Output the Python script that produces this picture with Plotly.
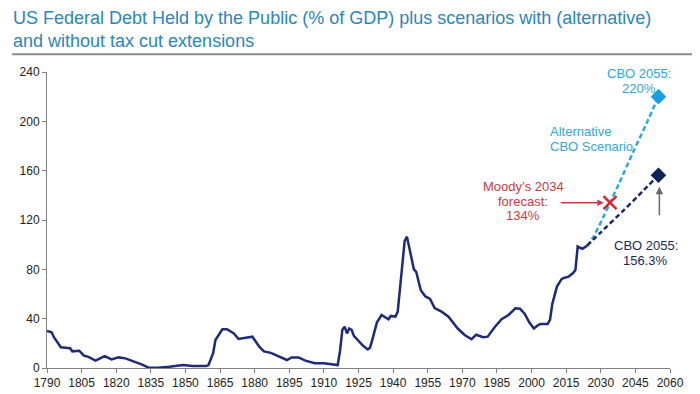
import plotly.graph_objects as go

# Historical debt held by the public, % of GDP
hist_years = [1790, 1791, 1792, 1793, 1795, 1796, 1800, 1801, 1804, 1806, 1808, 1811,
              1815, 1818, 1821, 1824, 1828, 1831, 1834, 1838, 1843, 1849, 1853, 1859,
              1860, 1862, 1863, 1864, 1866, 1868, 1871, 1873, 1878, 1879, 1882, 1884,
              1887, 1892, 1894, 1896, 1899, 1902, 1906, 1910, 1916, 1917, 1918, 1919,
              1920, 1921, 1922, 1923, 1925, 1927, 1929, 1930, 1931, 1933, 1935, 1937,
              1938, 1939, 1941, 1942, 1943, 1944, 1945, 1946, 1947, 1948, 1949, 1950,
              1952, 1954, 1956, 1958, 1961, 1964, 1968, 1971, 1974, 1976, 1979, 1981,
              1984, 1987, 1990, 1993, 1995, 1997, 1999, 2001, 2003, 2004, 2007, 2008,
              2009, 2011, 2013, 2014, 2016, 2018, 2019, 2020, 2022, 2024]
hist_vals = [30, 29.5, 29, 25, 19, 16.8, 16, 13.5, 14, 10, 9, 6,
             9.7, 7, 8.6, 7.8, 5, 3, 0.3, 0.3, 1, 2.4, 1.6, 1.6,
             2.4, 12, 22.7, 25.4, 31.4, 31.4, 28, 23.5, 24.9, 25.4, 17.3, 13.4,
             12.3, 7.8, 6.5, 8.6, 8.6, 6, 3.8, 3.8, 2.4, 14, 31, 33.5,
             28, 32, 31, 26, 22, 18, 15, 16.5, 23, 37, 43, 41,
             39.5, 42.2, 41.7, 45.7, 65, 82, 103, 106.5, 98, 90, 80, 78,
             63, 58, 56, 48.5, 45.7, 41.6, 32, 26.8, 23.3, 27, 25, 25.4,
             33, 39.5, 43, 48.4, 48, 44, 37, 32, 35, 35.7, 35.7, 39,
             52, 66, 72, 73, 74, 77, 79.5, 98.5, 96.6, 99]

# Alternative CBO scenario (with tax cut extensions)
alt_years = [2024, 2027, 2031, 2034, 2038, 2044, 2050, 2055]
alt_vals = [99, 107, 122, 134, 150, 175, 199, 220]

# CBO baseline (without extensions)
base_years = [2024, 2030, 2040, 2048, 2055]
base_vals = [99, 110, 128, 143, 156.3]

moody_year, moody_val = 2034, 134
x_ticks = list(range(1790, 2061, 15))
y_ticks = [0, 40, 80, 120, 160, 200, 240]

FONT = "Liberation Sans, Arial, sans-serif"
NAVY = "#1f2a78"
LIGHT = "#2ea8dc"
DARKDASH = "#1b2a60"
RED = "#d2373f"

fig = go.Figure()
fig.add_trace(go.Scatter(x=hist_years, y=hist_vals, mode="lines",
                         line=dict(color=NAVY, width=2.5), showlegend=False, hoverinfo="skip"))
fig.add_trace(go.Scatter(x=alt_years, y=alt_vals, mode="lines",
                         line=dict(color=LIGHT, width=2.5, dash="5px,3px", shape="spline", smoothing=0.8),
                         showlegend=False, hoverinfo="skip"))
fig.add_trace(go.Scatter(x=base_years, y=base_vals, mode="lines",
                         line=dict(color=DARKDASH, width=2.5, dash="5px,3px", shape="spline", smoothing=0.6),
                         showlegend=False, hoverinfo="skip"))
fig.add_trace(go.Scatter(x=[alt_years[-1]], y=[alt_vals[-1]], mode="markers",
                         marker=dict(symbol="diamond", size=12, color="#1a9fe0"),
                         showlegend=False, hoverinfo="skip"))
fig.add_trace(go.Scatter(x=[base_years[-1]], y=[base_vals[-1]], mode="markers",
                         marker=dict(symbol="diamond", size=12, color="#0d2457"),
                         showlegend=False, hoverinfo="skip"))
fig.add_trace(go.Scatter(x=[moody_year], y=[moody_val], mode="markers",
                         marker=dict(symbol="x-thin", size=13, line=dict(color="#d9262e", width=2.5)),
                         showlegend=False, hoverinfo="skip"))

annotations = []


def add_lines(lines, x, ys, color, xanchor="center"):
    for txt, yy in zip(lines, ys):
        annotations.append(dict(x=x, y=yy, xref="x", yref="y", text=txt, showarrow=False,
                                xanchor=xanchor, yanchor="middle",
                                font=dict(family=FONT, size=13, color=color)))


add_lines(["Alternative", "CBO Scenario"], 2007.0, [191.6, 179.4], LIGHT, "left")
add_lines(["CBO 2055:", "220%"], 2046.6, [239.0, 226.8], LIGHT)
add_lines(["CBO 2055:", "156.3%"], 2049.5, [99.3, 87.0], "#1b2a5c")
add_lines(["Moody\u2019s 2034", "forecast:", "134%"], 1996.4, [147.0, 134.8, 123.5], RED)

annotations += [
    dict(x=2031.3, y=134, xref="x", yref="y", ax=2012, ay=134, axref="x", ayref="y",
         text="", showarrow=True, arrowhead=2, arrowsize=1, arrowwidth=1.3, arrowcolor=RED),
    dict(x=2055.4, y=147, xref="x", yref="y", ax=2055.4, ay=122.7, axref="x", ayref="y",
         text="", showarrow=True, arrowhead=2, arrowsize=1, arrowwidth=1.5, arrowcolor="#6a6a6a"),
    dict(x=-0.057, y=1.224, xref="paper", yref="paper", xanchor="left", yanchor="top",
         text="US Federal Debt Held by the Public (% of GDP) plus scenarios with (alternative)<br>and without tax cut extensions",
         showarrow=False, align="left", font=dict(family=FONT, size=18, color="#2a86bf")),
]

fig.update_layout(
    width=700, height=394,
    margin=dict(l=32, r=38, t=64, b=34),
    paper_bgcolor="white", plot_bgcolor="white",
    annotations=annotations,
    shapes=[dict(type="line", xref="paper", yref="paper", x0=-0.056, x1=1.043,
                 y0=1.06, y1=1.06, line=dict(color="#8a8a8a", width=2))],
    xaxis=dict(range=[1790, 2060], tickvals=x_ticks, ticktext=[str(t) for t in x_ticks],
               showgrid=False, zeroline=False, showline=True, linecolor="#808080", linewidth=1,
               ticks="outside", ticklen=4, tickcolor="#808080",
               tickfont=dict(family=FONT, size=12, color="#222222")),
    yaxis=dict(range=[0, 240], tickvals=y_ticks, showgrid=False, zeroline=False,
               showline=True, linecolor="#808080", linewidth=1,
               ticks="outside", ticklen=4, tickcolor="#808080",
               tickfont=dict(family=FONT, size=12, color="#222222")),
)

fig.write_html("out.html")
